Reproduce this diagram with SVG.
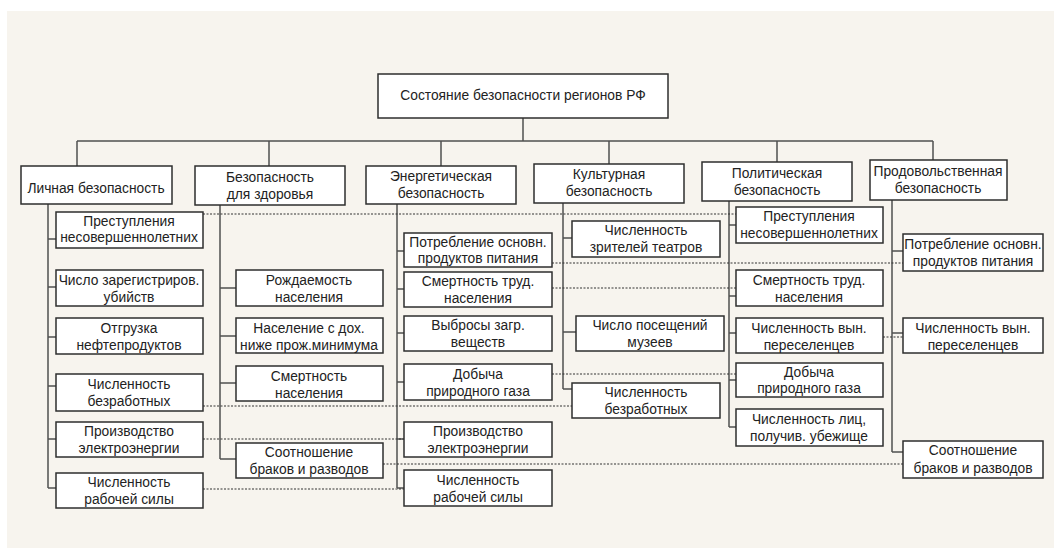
<svg xmlns="http://www.w3.org/2000/svg" width="1054" height="549" viewBox="0 0 1054 549">
<style>
.bg{fill:#f7f4ee}
.box{fill:#fff;stroke:#2e2e2e;stroke-width:1.5}
.t{font-family:"Liberation Sans",Arial,sans-serif;font-size:13.8px;fill:#222;text-anchor:middle}
.c{fill:none;stroke:#505050;stroke-width:1.5}
.d{fill:none;stroke:#333;stroke-width:1;stroke-dasharray:2 1.5}
</style>
<rect x="0" y="0" width="1054" height="549" fill="#fff"/>
<rect class="bg" x="7" y="11" width="1047" height="537"/>
<g id="connectors">
<path class="c" d="M523 118V141M77 141H933M77 141V166M269 141V166M441 141V166M609 141V164M777 141V162M933 141V160"/>
<path class="c" d="M48 204V488M48 239H56M48 287H56M48 337H56M48 386H56M48 439H56M48 488H56"/>
<path class="c" d="M220 205V459M220 288H236M220 336H236M220 383H236M220 459H236"/>
<path class="c" d="M397 204V488M397 251H404M397 289H404M397 333H404M397 382H404M397 439H404M397 488H404"/>
<path class="c" d="M563 203V389M563 238H572M563 332H576M563 389H572"/>
<path class="c" d="M729 201V427M729 225H736M729 296H736M729 333H736M729 380H736M729 427H736"/>
<path class="c" d="M892 200V452M892 251H903M892 333H903M892 452H903"/>
<path class="d" d="M203 214H736M552 263H903M552 288H736M883 337H903M552 374H736M203 406H572M203 439H404M383 464H903M203 489H404"/>
</g>
<g id="root"><rect class="box" x="378" y="74" width="290" height="44"/><text class="t" x="523" y="100">Состояние безопасности регионов РФ</text></g>
<g id="lichnaya"><rect class="box" x="21" y="166" width="151" height="38"/><text class="t" x="96" y="193">Личная безопасность</text></g>
<g id="zdorovie"><rect class="box" x="195" y="166" width="150" height="39"/><text class="t" x="270" y="182">Безопасность</text><text class="t" x="270" y="199">для здоровья</text></g>
<g id="energ"><rect class="box" x="366" y="166" width="150" height="38"/><text class="t" x="441" y="181">Энергетическая</text><text class="t" x="441" y="198">безопасность</text></g>
<g id="kult"><rect class="box" x="534" y="164" width="150" height="39"/><text class="t" x="609" y="179">Культурная</text><text class="t" x="609" y="196">безопасность</text></g>
<g id="polit"><rect class="box" x="702" y="162" width="150" height="39"/><text class="t" x="777" y="178">Политическая</text><text class="t" x="777" y="195">безопасность</text></g>
<g id="prod"><rect class="box" x="870" y="160" width="137" height="40"/><text class="t" x="938" y="176">Продовольственная</text><text class="t" x="938" y="193">безопасность</text></g>

<g id="l1"><rect class="box" x="56" y="212" width="147" height="36"/><text class="t" x="129" y="226">Преступления</text><text class="t" x="129" y="242">несовершеннолетних</text></g>
<g id="l2"><rect class="box" x="56" y="270" width="147" height="36"/><text class="t" x="129" y="285">Число зарегистриров.</text><text class="t" x="129" y="302">убийств</text></g>
<g id="l3"><rect class="box" x="56" y="318" width="147" height="36"/><text class="t" x="129" y="333">Отгрузка</text><text class="t" x="129" y="350">нефтепродуктов</text></g>
<g id="l4"><rect class="box" x="56" y="374" width="147" height="37"/><text class="t" x="129" y="389">Численность</text><text class="t" x="129" y="406">безработных</text></g>
<g id="l5"><rect class="box" x="56" y="422" width="147" height="35"/><text class="t" x="129" y="436">Производство</text><text class="t" x="129" y="453">электроэнергии</text></g>
<g id="l6"><rect class="box" x="56" y="473" width="147" height="35"/><text class="t" x="129" y="487">Численность</text><text class="t" x="129" y="504">рабочей силы</text></g>

<g id="h1"><rect class="box" x="236" y="270" width="147" height="36"/><text class="t" x="309" y="285">Рождаемость</text><text class="t" x="309" y="302">населения</text></g>
<g id="h2"><rect class="box" x="236" y="318" width="147" height="35"/><text class="t" x="309" y="333">Население с дох.</text><text class="t" x="309" y="350">ниже прож.минимума</text></g>
<g id="h3"><rect class="box" x="236" y="366" width="147" height="35"/><text class="t" x="309" y="381">Смертность</text><text class="t" x="309" y="398">населения</text></g>
<g id="h4"><rect class="box" x="236" y="443" width="147" height="35"/><text class="t" x="309" y="457">Соотношение</text><text class="t" x="309" y="474">браков и разводов</text></g>

<g id="e1"><rect class="box" x="404" y="233" width="148" height="34"/><text class="t" x="478" y="247">Потребление основн.</text><text class="t" x="478" y="263">продуктов питания</text></g>
<g id="e2"><rect class="box" x="404" y="272" width="148" height="35"/><text class="t" x="478" y="286">Смертность труд.</text><text class="t" x="478" y="303">населения</text></g>
<g id="e3"><rect class="box" x="404" y="316" width="148" height="35"/><text class="t" x="478" y="330">Выбросы загр.</text><text class="t" x="478" y="347">веществ</text></g>
<g id="e4"><rect class="box" x="404" y="364" width="148" height="36"/><text class="t" x="478" y="379">Добыча</text><text class="t" x="478" y="396">природного газа</text></g>
<g id="e5"><rect class="box" x="404" y="422" width="148" height="35"/><text class="t" x="478" y="436">Производство</text><text class="t" x="478" y="453">электроэнергии</text></g>
<g id="e6"><rect class="box" x="404" y="470" width="148" height="36"/><text class="t" x="478" y="485">Численность</text><text class="t" x="478" y="502">рабочей силы</text></g>

<g id="k1"><rect class="box" x="572" y="221" width="148" height="36"/><text class="t" x="646" y="235">Численность</text><text class="t" x="646" y="252">зрителей театров</text></g>
<g id="k2"><rect class="box" x="576" y="316" width="148" height="35"/><text class="t" x="650" y="330">Число посещений</text><text class="t" x="650" y="347">музеев</text></g>
<g id="k3"><rect class="box" x="572" y="383" width="148" height="35"/><text class="t" x="646" y="397">Численность</text><text class="t" x="646" y="414">безработных</text></g>

<g id="p1"><rect class="box" x="736" y="207" width="147" height="36"/><text class="t" x="809" y="221">Преступления</text><text class="t" x="809" y="238">несовершеннолетних</text></g>
<g id="p2"><rect class="box" x="736" y="270" width="147" height="36"/><text class="t" x="809" y="285">Смертность труд.</text><text class="t" x="809" y="302">населения</text></g>
<g id="p3"><rect class="box" x="736" y="318" width="147" height="35"/><text class="t" x="809" y="333">Численность вын.</text><text class="t" x="809" y="350">переселенцев</text></g>
<g id="p4"><rect class="box" x="736" y="363" width="147" height="34"/><text class="t" x="809" y="377">Добыча</text><text class="t" x="809" y="393">природного газа</text></g>
<g id="p5"><rect class="box" x="736" y="409" width="147" height="37"/><text class="t" x="809" y="424">Численность лиц,</text><text class="t" x="809" y="441">получив. убежище</text></g>

<g id="f1"><rect class="box" x="903" y="234" width="140" height="37"/><text class="t" x="973" y="249">Потребление основн.</text><text class="t" x="973" y="266">продуктов питания</text></g>
<g id="f2"><rect class="box" x="903" y="318" width="140" height="35"/><text class="t" x="973" y="333">Численность вын.</text><text class="t" x="973" y="350">переселенцев</text></g>
<g id="f3"><rect class="box" x="903" y="441" width="140" height="37"/><text class="t" x="973" y="455">Соотношение</text><text class="t" x="973" y="473">браков и разводов</text></g>
</svg>
